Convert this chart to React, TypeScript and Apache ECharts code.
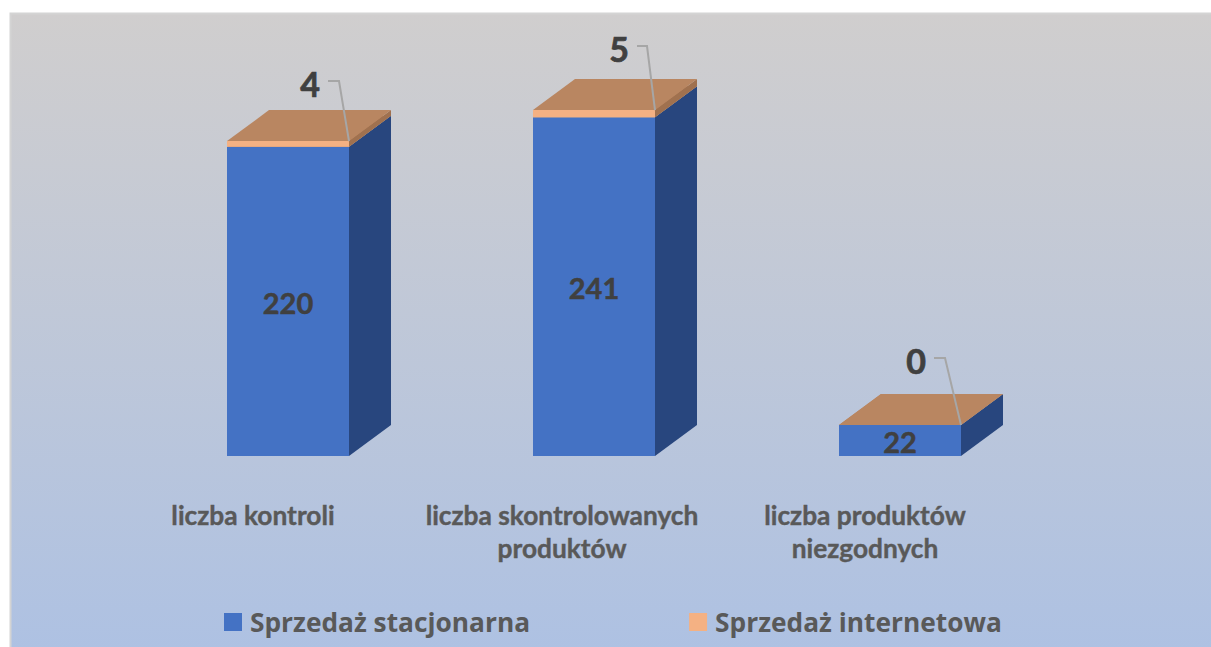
import React, { useEffect, useRef } from "react";
import * as echarts from "echarts";

const categories = ["liczba kontroli", "liczba skontrolowanych\nproduktów", "liczba produktów\nniezgodnych"];
const stationary = [220, 241, 22];
const internet = [4, 5, 0];
const seriesNames = ["Sprzedaż stacjonarna", "Sprzedaż internetowa"];
// leader-label layout relative to the front right top corner of each column
const leaderLayout = [
  { tx: -39, ty: -58, ex: -21, ey: -60, kx: -10, ky: -60 },
  { tx: -36, ty: -62, ex: -18, ey: -64, kx: -8, ky: -64 },
  { tx: -45, ty: -65, ex: -27, ey: -67, kx: -16, ky: -67 },
];
// right padding that shifts each category label to the left of its column
const labelShift = [70, 64, 70];

const BAR_W = 122;
const DX = 42;
const DY = -31;

const LABEL_FONT = "bold 29px Lato";
const LEADER_FONT = "bold 34px Lato";
const TEXT_INK = "#404040";

function front(l: number, r: number, t: number, b: number, fill: string) {
  return { type: "polygon", shape: { points: [[l, t], [r, t], [r, b], [l, b]] }, style: { fill } };
}
function side(r: number, t: number, b: number, fill: string) {
  return { type: "polygon", shape: { points: [[r, t], [r + DX, t + DY], [r + DX, b + DY], [r, b]] }, style: { fill } };
}

function renderStationary(_p: any, api: any) {
  const i = api.value(0);
  const [cx, b] = api.coord([i, 0]);
  const [, t] = api.coord([i, api.value(1)]);
  const l = cx - BAR_W / 2;
  const r = cx + BAR_W / 2;
  return {
    type: "group",
    children: [
      side(r, t, b, "#28467E"),
      front(l, r, t, b, "#4472C4"),
      {
        type: "polygon",
        shape: { points: [[l, t], [r, t], [r + DX, t + DY], [l + DX, t + DY]] },
        style: { fill: "#B98661" },
      },
      {
        type: "text",
        style: {
          text: String(api.value(1)),
          x: cx,
          y: (t + b) / 2 + 1,
          font: LABEL_FONT,
          fill: TEXT_INK,
          stroke: TEXT_INK,
          lineWidth: 0.5,
          align: "center",
          verticalAlign: "middle",
        },
      },
    ],
  };
}

function renderInternet(_p: any, api: any) {
  const i = api.value(0);
  const [cx, b] = api.coord([i, api.value(1)]);
  const [, t] = api.coord([i, api.value(2)]);
  const l = cx - BAR_W / 2;
  const r = cx + BAR_W / 2;
  const m = leaderLayout[i];
  return {
    type: "group",
    children: [
      side(r, t, b, "#A0714F"),
      front(l, r, t, b, "#F4B183"),
      {
        type: "polygon",
        shape: { points: [[l, t], [r, t], [r + DX, t + DY], [l + DX, t + DY]] },
        style: { fill: "#B98661" },
      },
      {
        type: "polyline",
        shape: { points: [[r + m.ex, t + m.ey], [r + m.kx, t + m.ky], [r, t]] },
        style: { fill: "none", stroke: "#A6A6A6", lineWidth: 2 },
      },
      {
        type: "text",
        style: {
          text: String(api.value(3)),
          x: r + m.tx,
          y: t + m.ty,
          font: LEADER_FONT,
          fill: TEXT_INK,
          stroke: TEXT_INK,
          lineWidth: 0.7,
          align: "center",
          verticalAlign: "middle",
        },
      },
    ],
  };
}

export default function App() {
  const ref = useRef<HTMLDivElement>(null);
  useEffect(() => {
    const chart = echarts.init(ref.current!, null, { renderer: "svg" });
    chart.setOption({
      animation: false,
      graphic: [
        {
          type: "rect",
          z: -10,
          silent: true,
          shape: { x: 10.5, y: 13.5, width: 1210, height: 650 },
          style: {
            stroke: "#D4D4D4",
            lineWidth: 2,
            fill: new echarts.graphic.LinearGradient(0, 0, 0, 1, [
              { offset: 0, color: "#D0CECE" },
              { offset: 1, color: "#ADC1E3" },
            ]),
          },
        },
      ],
      grid: { left: 135, top: 104.5, width: 918, height: 351.5 },
      xAxis: {
        type: "category",
        data: categories.map((value, i) => ({
          value,
          textStyle: { padding: [0, labelShift[i], 0, 0] },
        })),
        axisLine: { show: false },
        axisTick: { show: false },
        axisLabel: {
          interval: 0,
          margin: 42,
          fontFamily: "Lato",
          fontWeight: "bold",
          fontSize: 26.3,
          lineHeight: 33,
          color: "#595959",
          textBorderColor: "#595959",
          textBorderWidth: 0.4,
        },
      },
      yAxis: { type: "value", min: 0, max: 250, show: false },
      legend: {
        left: 219,
        top: 604,
        icon: "rect",
        itemWidth: 18,
        itemHeight: 18,
        itemGap: 159,
        data: seriesNames,
        textStyle: {
          fontFamily: "Open Sans",
          fontWeight: "bold",
          fontSize: 26.3,
          color: "#595959",
          padding: [0, 0, 2, 3],
        },
      },
      series: [
        {
          type: "custom",
          name: seriesNames[0],
          itemStyle: { color: "#4472C4" },
          renderItem: renderStationary,
          encode: { x: 0, y: 1 },
          data: stationary.map((v, i) => [i, v]),
        },
        {
          type: "custom",
          name: seriesNames[1],
          itemStyle: { color: "#F4B183" },
          renderItem: renderInternet,
          encode: { x: 0, y: 2 },
          data: internet.map((v, i) => [i, stationary[i], stationary[i] + v, v]),
        },
      ],
    });
    return () => chart.dispose();
  }, []);
  return (
    <div
      ref={ref}
      style={{ position: "fixed", left: 0, top: 0, width: 1211, height: 647, background: "#fff" }}
    />
  );
}
